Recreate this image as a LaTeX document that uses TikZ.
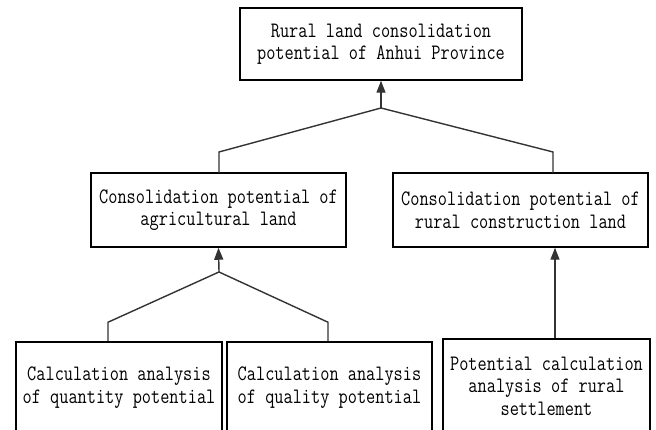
\documentclass[tikz,border=0pt]{standalone}
\usepackage{fontspec}
\newfontfamily\boxfont[FakeStretch=0.81]{Latin Modern Mono}
\usepackage{tikz}
\usetikzlibrary{arrows.meta, positioning}

\tikzset{
  box/.style={draw, line width=1.5pt, align=center, inner sep=2pt,
    font=\boxfont\fontsize{22}{22.5}\selectfont},
  link/.style={line width=1.4pt, draw=black!80},
  uparrow/.style={link, -{Triangle[length=12pt,width=9pt]}}
}

\begin{document}
\begin{tikzpicture}[x=1pt, y=1pt]
    \useasboundingbox (0,0) rectangle (656,430);
    % Top level
    \node[box, minimum width=282pt, minimum height=72pt] (root) at (381,386)
        {Rural land consolidation\\potential of Anhui Province};
    % Middle level
    \node[box, minimum width=255pt, minimum height=74pt] (agri) at (218.5,220)
        {Consolidation potential of\\agricultural land};
    \node[box, minimum width=255pt, minimum height=74pt] (constr) at (520.5,220)
        {Consolidation potential of\\rural construction land};
    % Bottom level
    \node[box, minimum width=206pt, minimum height=91pt] (quant) at (119,42.5)
        {Calculation analysis\\of quantity potential};
    \node[box, minimum width=205pt, minimum height=91pt] (qual) at (329.5,42.5)
        {Calculation analysis\\of quality potential};
    \node[box, minimum width=207pt, minimum height=94pt] (settle) at (546.5,44)
        {Potential calculation\\analysis of rural\\settlement};
    % Junctions
    \coordinate (jtop) at (381,322);
    \coordinate (jagri) at (219,158);
    % Connectors to top
    \draw[link] (219,257) -- (219,278) -- (jtop);
    \draw[link] (553,257) -- (553,278) -- (jtop);
    \draw[uparrow] (jtop) -- (root.south);
    % Connectors to agricultural land
    \draw[link] ([xshift=-11pt]quant.north) -- ++(0,19) -- (jagri);
    \draw[link] ([xshift=-1.5pt]qual.north) -- ++(0,19) -- (jagri);
    \draw[uparrow] (jagri) -- (agri.south);
    % Settlement to construction land
    \draw[uparrow] ([xshift=8.5pt]settle.north) -- ([xshift=8.5pt]settle.north |- constr.south);
\end{tikzpicture}
\end{document}
